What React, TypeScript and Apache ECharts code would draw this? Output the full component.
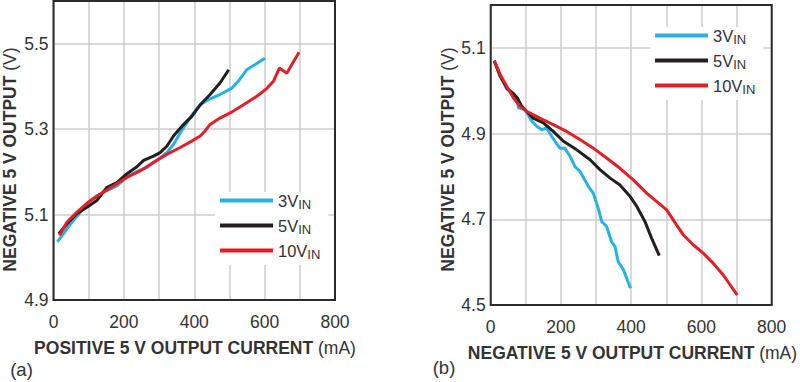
import React, { useEffect, useRef } from 'react';
import * as echarts from 'echarts';

// ---------- data ----------
const seriesNames = ['3VIN', '5VIN', '10VIN'];
const seriesColors = ['#27B2E6', '#231F20', '#E21F26'];

// (a) positive 5 V output vs positive output current
const a3x = [11, 28, 52, 76, 99, 123, 152, 180, 208, 237, 265, 294, 322, 341, 360, 379, 398, 417, 440, 473, 507, 525, 549, 578, 601];
const a3y = [5.036, 5.055, 5.082, 5.105, 5.129, 5.144, 5.156, 5.167, 5.187, 5.201, 5.21, 5.227, 5.245, 5.264, 5.291, 5.315, 5.338, 5.357, 5.369, 5.381, 5.396, 5.412, 5.439, 5.454, 5.466];
const a5x = [15, 38, 66, 95, 123, 152, 180, 208, 237, 256, 284, 303, 322, 341, 365, 393, 417, 445, 473, 498];
const a5y = [5.055, 5.078, 5.102, 5.117, 5.133, 5.164, 5.175, 5.195, 5.212, 5.227, 5.237, 5.245, 5.26, 5.284, 5.307, 5.33, 5.357, 5.381, 5.408, 5.439];
const a10x = [17, 38, 66, 99, 133, 170, 208, 246, 284, 322, 360, 393, 417, 430, 445, 473, 502, 540, 578, 606, 625, 642, 663, 682, 698];
const a10y = [5.051, 5.082, 5.105, 5.129, 5.148, 5.167, 5.187, 5.202, 5.222, 5.241, 5.257, 5.272, 5.284, 5.295, 5.311, 5.326, 5.338, 5.357, 5.377, 5.395, 5.412, 5.443, 5.431, 5.458, 5.48];

// (b) negative 5 V output vs negative output current
const b3x = [10, 27, 46, 65, 76, 79, 98, 117, 131, 145, 159, 174, 183, 197, 211, 226, 240, 254, 278, 292, 306, 316, 330, 344, 354, 363, 378, 398];
const b3y = [5.07, 5.034, 5.004, 4.991, 4.981, 4.96, 4.956, 4.929, 4.917, 4.909, 4.913, 4.893, 4.882, 4.866, 4.866, 4.847, 4.823, 4.812, 4.777, 4.761, 4.726, 4.695, 4.683, 4.648, 4.636, 4.601, 4.582, 4.539];
const b5x = [10, 27, 46, 65, 76, 88, 102, 121, 150, 178, 207, 245, 283, 311, 340, 368, 397, 416, 439, 458, 480];
const b5y = [5.07, 5.034, 5.006, 4.993, 4.983, 4.964, 4.952, 4.936, 4.925, 4.905, 4.882, 4.862, 4.839, 4.816, 4.796, 4.78, 4.753, 4.73, 4.695, 4.656, 4.615];
const b10x = [10, 27, 46, 65, 83, 102, 140, 178, 216, 254, 292, 330, 368, 406, 444, 472, 501, 529, 548, 577, 605, 634, 662, 702];
const b10y = [5.07, 5.038, 5.01, 4.983, 4.964, 4.952, 4.936, 4.921, 4.905, 4.886, 4.866, 4.843, 4.819, 4.792, 4.761, 4.742, 4.722, 4.687, 4.664, 4.64, 4.621, 4.597, 4.57, 4.523];

const xMin = 0;
const xMax = 800;
const xGridStep = 100;
const xLabelStep = 200;
const yAMin = 4.9;
const yAMax = 5.6;
const yBMin = 4.5;
const yBMax = 5.2;
const yStep = 0.2;

const FONT = 'Liberation Sans, Arial, Helvetica, sans-serif';
const TXT = '#333333';

const pairs = (xs: number[], ys: number[]) => xs.map((x, i) => [x, ys[i]]);

function makeXAxis(gridIndex: number) {
  return {
    type: 'value',
    gridIndex,
    min: xMin,
    max: xMax,
    interval: xGridStep,
    axisLine: { show: false },
    axisTick: { show: false },
    axisLabel: {
      color: TXT,
      fontSize: 17.5,
      fontFamily: FONT,
      margin: 12.5,
      formatter: (v: number) => (Math.round(v) % xLabelStep === 0 ? String(Math.round(v)) : ''),
    },
    splitLine: { show: true, lineStyle: { color: '#cccccc', width: 1.5 } },
  };
}

function makeYAxis(gridIndex: number, min: number, max: number) {
  return {
    type: 'value',
    gridIndex,
    min,
    max,
    interval: yStep,
    axisLine: { show: false },
    axisTick: { show: false },
    axisLabel: {
      color: TXT,
      fontSize: 17.5,
      fontFamily: FONT,
      margin: 5,
      formatter: (v: number) => {
        const k = (v - min) / yStep;
        return Math.abs(k - Math.round(k)) < 0.01 ? v.toFixed(1) : '';
      },
    },
    splitLine: { show: true, lineStyle: { color: '#cccccc', width: 1.5 } },
  };
}

function makeSeries(name: string, color: string, data: number[][], idx: number) {
  return {
    type: 'line',
    name,
    xAxisIndex: idx,
    yAxisIndex: idx,
    data,
    showSymbol: false,
    symbol: 'none',
    smooth: false,
    lineStyle: { color, width: 3 },
    itemStyle: { color },
    z: 3,
  };
}

const legendRich = {
  n: { fontSize: 16.5, lineHeight: 21, color: TXT, fontFamily: FONT },
  s: { fontSize: 13, lineHeight: 12, verticalAlign: 'bottom', color: TXT, fontFamily: FONT },
};

function makeLegend(left: number, top: number) {
  return {
    left,
    top,
    orient: 'vertical',
    data: seriesNames,
    icon: 'rect',
    itemWidth: 53,
    itemHeight: 4,
    itemGap: 6,
    padding: [0, 8, 4, 5],
    backgroundColor: '#ffffff',
    selectedMode: false,
    textStyle: { fontFamily: FONT, fontSize: 16.5, color: TXT, rich: legendRich },
    formatter: (name: string) => `{n|${name.replace('IN', '')}}{s|IN}`,
  };
}

const titleRich = {
  b: { fontSize: 17.5, lineHeight: 18, fontWeight: 'bold', fill: TXT, fontFamily: FONT },
  r: { fontSize: 17.5, lineHeight: 18, fontWeight: 'normal', fill: TXT, fontFamily: FONT },
};

export default function App() {
  const ref = useRef<HTMLDivElement>(null);
  useEffect(() => {
    if (!ref.current) return;
    const chart = echarts.init(ref.current, undefined, { renderer: 'svg' });
    const option = {
      animation: false,
      backgroundColor: '#ffffff',
      textStyle: { fontFamily: FONT },
      grid: [
        { left: 53.5, top: 1, width: 281.5, height: 299, show: true, z: 10, backgroundColor: 'transparent', borderColor: '#2b2b2b', borderWidth: 2 },
        { left: 490.7, top: 5, width: 281, height: 300, show: true, z: 10, backgroundColor: 'transparent', borderColor: '#2b2b2b', borderWidth: 2 },
      ],
      xAxis: [makeXAxis(0), makeXAxis(1)],
      yAxis: [makeYAxis(0, yAMin, yAMax), makeYAxis(1, yBMin, yBMax)],
      legend: [makeLegend(215, 192), makeLegend(650, 27)],
      series: [
        makeSeries(seriesNames[0], seriesColors[0], pairs(a3x, a3y), 0),
        makeSeries(seriesNames[1], seriesColors[1], pairs(a5x, a5y), 0),
        makeSeries(seriesNames[2], seriesColors[2], pairs(a10x, a10y), 0),
        makeSeries(seriesNames[0], seriesColors[0], pairs(b3x, b3y), 1),
        makeSeries(seriesNames[1], seriesColors[1], pairs(b5x, b5y), 1),
        makeSeries(seriesNames[2], seriesColors[2], pairs(b10x, b10y), 1),
      ],
      graphic: [
        {
          type: 'text', x: 195, y: 348,
          style: { text: '{b|POSITIVE 5 V OUTPUT CURRENT} {r|(mA)}', rich: titleRich, align: 'center', verticalAlign: 'middle', fontSize: 17.5, fontFamily: FONT, fill: TXT },
        },
        {
          type: 'text', x: 632.5, y: 353,
          style: { text: '{b|NEGATIVE 5 V OUTPUT CURRENT} {r|(mA)}', rich: titleRich, align: 'center', verticalAlign: 'middle', fontSize: 17.5, fontFamily: FONT, fill: TXT },
        },
        {
          type: 'text', x: 9.5, y: 159.5, rotation: Math.PI / 2,
          style: { text: '{b|NEGATIVE 5 V OUTPUT} {r|(V)}', rich: titleRich, align: 'center', verticalAlign: 'middle', fontSize: 17.5, fontFamily: FONT, fill: TXT },
        },
        {
          type: 'text', x: 447.5, y: 159.5, rotation: Math.PI / 2,
          style: { text: '{b|NEGATIVE 5 V OUTPUT} {r|(V)}', rich: titleRich, align: 'center', verticalAlign: 'middle', fontSize: 17.5, fontFamily: FONT, fill: TXT },
        },
        {
          type: 'text', x: 21.5, y: 369,
          style: { text: '(a)', align: 'center', verticalAlign: 'middle', fontSize: 18.5, fontFamily: FONT, fill: TXT },
        },
        {
          type: 'text', x: 444, y: 367,
          style: { text: '(b)', align: 'center', verticalAlign: 'middle', fontSize: 18.5, fontFamily: FONT, fill: TXT },
        },
      ],
    };
    chart.setOption(option as any);
    return () => chart.dispose();
  }, []);
  return (
    <div
      ref={ref}
      style={{ position: 'fixed', left: 0, top: 0, width: 800, height: 382, background: '#fff' }}
    />
  );
}
